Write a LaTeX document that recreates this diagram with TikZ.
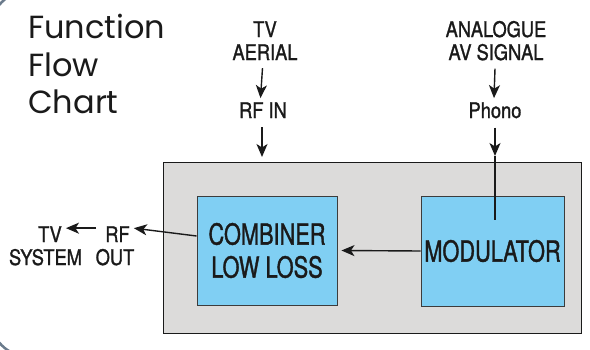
\documentclass[tikz,border=0pt]{standalone}
\usepackage{fontspec}
\usetikzlibrary{arrows.meta}
\newfontfamily\labfont[FakeStretch=0.85,FakeBold=1.2]{TeX Gyre Heros}
\newfontfamily\boxfont[FakeStretch=0.75,FakeBold=1.2]{TeX Gyre Heros}
\newfontfamily\titlefont{Poppins}
\definecolor{boxblue}{HTML}{80CFF3}
\definecolor{boxgrey}{HTML}{DCDBDA}
\definecolor{frameclr}{HTML}{6B7B8C}
\definecolor{ink}{HTML}{1A1A1A}
\tikzset{
  lab/.style={inner sep=0pt, anchor=base, font=\labfont\fontsize{21.5}{24}\selectfont, text=ink},
  ttl/.style={inner sep=0pt, anchor=base west, font=\titlefont\fontsize{32}{36}\selectfont, text=ink},
  blk/.style={draw=ink!85, line width=0.9pt, fill=boxblue, inner sep=0pt, align=center,
              font=\boxfont\fontsize{29}{33}\selectfont, text=ink},
  arr/.style={draw=ink, line width=1.4pt, -{Stealth[length=13pt,width=11pt,inset=3.5pt]}},
  ln/.style={draw=ink, line width=1.4pt}
}
\begin{document}
\begin{tikzpicture}[x=1pt,y=-1pt]
\useasboundingbox (0,0) rectangle (590,349);
\fill[white] (0,0) rectangle (590,349);
\begin{scope}
\clip (0,0) rectangle (590,349);
\draw[frameclr, line width=2.5pt, rounded corners=40pt] (-10,-9.5) rectangle (640,357);
\end{scope}
% title
\node[ttl] (t1) at (28,38) {Function};
\node[ttl] (t2) at (28,76) {Flow};
\node[ttl] (t3) at (28,113) {Chart};
% grey box and blocks
\node[draw=ink, line width=1.3pt, fill=boxgrey, inner sep=0pt, minimum width=418pt, minimum height=171pt, anchor=north west] (grey) at (163,162) {};
\node[blk, minimum width=140pt, minimum height=109pt] (comb) at (267,250.5) {COMBINER\\LOW LOSS};
\node[blk, minimum width=143pt, minimum height=110pt] (mod) at (492.5,251) {MODULATOR};
% top-left labels
\node[lab] (tv) at (265,37) {TV};
\node[lab] (aerial) at (265,60) {AERIAL};
\node[lab] (rfin) at (263,118) {RF IN};
\draw[arr] ([xshift=-2.5pt,yshift=-8pt]aerial.south) -- ([xshift=-2.5pt,yshift=4pt]rfin.north);
\draw[arr] ([xshift=-1pt,yshift=-9pt]rfin.south) -- ([xshift=-1pt,yshift=5pt]grey.north -| rfin.south);
% top-right labels
\node[lab] (analogue) at (496,37) {ANALOGUE};
\node[lab] (avsig) at (496,60) {AV SIGNAL};
\node[lab] (phono) at (495,118) {Phono};
\coordinate (ptip) at ([yshift=6pt]grey.north -| phono.south);
\coordinate (pend) at ([yshift=-24pt]mod.north -| phono.south);
\draw[arr] ([xshift=-1pt,yshift=-8pt]avsig.south) -- ([xshift=-1pt,yshift=4pt]phono.north);
\draw[arr] ([yshift=-9pt]phono.south) -- (ptip);
\draw[ln] (ptip) -- (pend);
% internal arrow
\draw[arr] (mod.west) -- ([xshift=4pt]comb.east);
% output labels
\node[lab] (rf) at (117.5,242) {RF};
\node[lab] (tvout) at (50,242) {TV};
\node[lab] (system) at (45.5,265) {SYSTEM};
\node[lab] (out) at (115,265) {OUT};
\draw[arr] ([yshift=14.5pt]comb.west) -- ([xshift=4pt,yshift=6pt]rf.east);
\draw[arr] ([xshift=-9pt,yshift=6pt]rf.west) -- ([xshift=4pt,yshift=6pt]tvout.east);
\end{tikzpicture}
\end{document}
